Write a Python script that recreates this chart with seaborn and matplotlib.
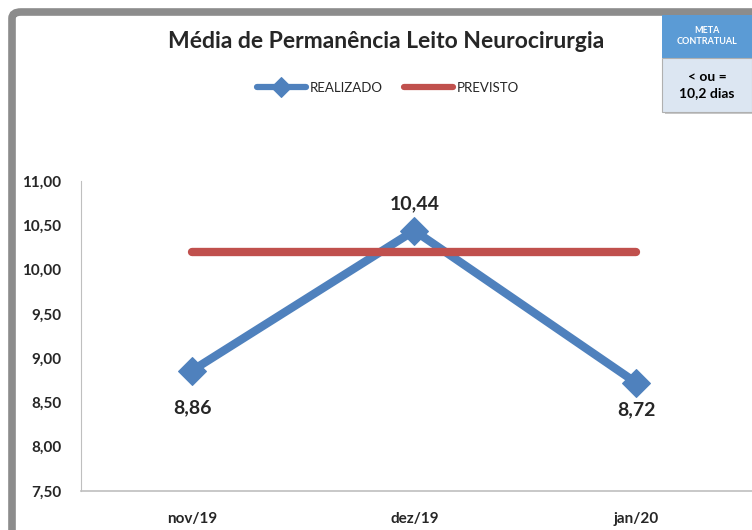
import pandas as pd
import numpy as np
import seaborn as sns
import matplotlib.pyplot as plt
from matplotlib.patches import FancyBboxPatch, Rectangle

# Data
meses = ['nov/19', 'dez/19', 'jan/20']
realizado = [8.86, 10.44, 8.72]
previsto = [10.2, 10.2, 10.2]
rotulos = ['8,86', '10,44', '8,72']
yticks = [7.5, 8.0, 8.5, 9.0, 9.5, 10.0, 10.5, 11.0]

df = pd.DataFrame({'mes': meses, 'REALIZADO': realizado, 'PREVISTO': previsto})

sns.set_style('white')
plt.rcParams['font.family'] = ['Lato', 'DejaVu Sans']

azul = '#4F81BD'
vermelho = '#C0504D'

fig = plt.figure(figsize=(7.52, 5.30), dpi=100)
ax = fig.add_axes([81 / 752, 1 - 491 / 530, 671 / 752, 310 / 530])

sns.lineplot(data=df, x='mes', y='REALIZADO', ax=ax, color=azul, lw=6,
             marker='D', markersize=14, markeredgecolor=azul,
             solid_joinstyle='round', solid_capstyle='round', label='REALIZADO', zorder=2)
sns.lineplot(data=df, x='mes', y='PREVISTO', ax=ax, color=vermelho, lw=6,
             solid_capstyle='round', label='PREVISTO', zorder=3)

ax.set_xlim(-0.5, 2.52)
ax.set_ylim(7.5, 11.0)
ax.set_yticks(yticks)
ax.set_yticklabels([f'{v:.2f}'.replace('.', ',') for v in yticks], fontsize=11, fontweight='bold')
ax.set_xticks(range(len(meses)))
ax.set_xticklabels(meses, fontsize=11, fontweight='bold')
ax.tick_params(length=0)
ax.tick_params(axis='x', pad=15)
ax.tick_params(axis='y', pad=14)
ax.set_xlabel('')
ax.set_ylabel('')
for s in ['top', 'right']:
    ax.spines[s].set_visible(False)
ax.spines['left'].set_color('#BFBFBF')
ax.spines['bottom'].set_color('#BFBFBF')
ax.spines['bottom'].set_linewidth(1.2)

# data labels
offs = [-36, 26, -26]
for i, (v, t) in enumerate(zip(realizado, rotulos)):
    ax.annotate(t, (i, v), xytext=(0, offs[i] * 0.75), textcoords='offset points',
                ha='center', va='center', fontsize=14, fontweight='bold')

leg = ax.legend(loc='center', bbox_to_anchor=(388 / 752, 1 - 88 / 530),
                bbox_transform=fig.transFigure, ncol=2, frameon=False, fontsize=9.5,
                handlelength=3.7, handletextpad=0.3, columnspacing=1.6, markerscale=0.75)
for h in leg.legend_handles:
    h.set_linewidth(4.5)

fig.text(386 / 752, 1 - 42 / 530, 'Média de Permanência Leito Neurocirurgia',
         ha='center', va='center', fontsize=16.5, fontweight='bold')

# outer frame
fig.patches.append(FancyBboxPatch((12 / 752, -0.1), 1.1, 1 - 12 / 530 + 0.1,
                                  boxstyle='round,pad=0,rounding_size=0.012',
                                  transform=fig.transFigure, fill=False,
                                  edgecolor='#8C8C8C', lw=5.5, zorder=0))

# meta box
fig.patches.append(Rectangle((665 / 752, 1 - 114 / 530), 90 / 752, 56 / 530,
                             transform=fig.transFigure, facecolor='#C8C8C8',
                             edgecolor='none', zorder=1))
fig.patches.append(Rectangle((662 / 752, 1 - 58 / 530), 90 / 752, 43 / 530,
                             transform=fig.transFigure, facecolor='#5B9BD5',
                             edgecolor='none', zorder=2))
fig.patches.append(Rectangle((662 / 752, 1 - 112 / 530), 90 / 752, 54 / 530,
                             transform=fig.transFigure, facecolor='#DCE6F2',
                             edgecolor='#B0B0B0', lw=0.8, zorder=2))
fig.text(707 / 752, 1 - 36 / 530, 'META\nCONTRATUAL', ha='center', va='center',
         fontsize=6.5, fontweight='bold', color='white', linespacing=1.3)
fig.text(707 / 752, 1 - 85 / 530, '< ou =\n10,2 dias', ha='center', va='center',
         fontsize=10, fontweight='bold', color='black', linespacing=1.4)

fig.savefig('out.png', dpi=100)
